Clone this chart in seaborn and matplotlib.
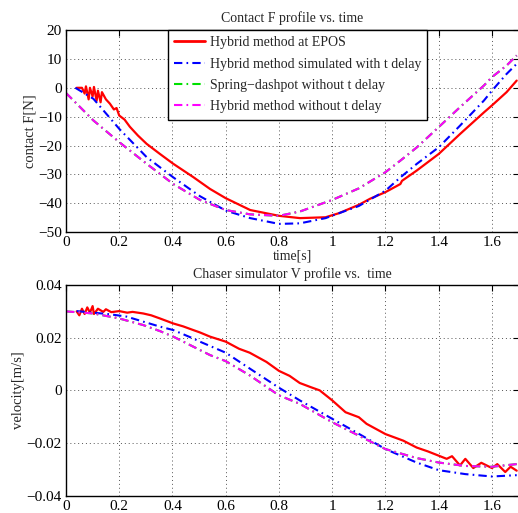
import numpy as np
import pandas as pd
import seaborn as sns
import matplotlib
matplotlib.use("Agg")
import matplotlib.pyplot as plt
from matplotlib.ticker import FuncFormatter, MultipleLocator

# --- contact force (top) ---
t_f_epos = [0.04, 0.06, 0.07, 0.075, 0.085, 0.09, 0.10, 0.105, 0.115, 0.12, 0.13, 0.135,
            0.15, 0.165, 0.18, 0.19, 0.20, 0.22, 0.24, 0.253, 0.27, 0.303, 0.353, 0.403,
            0.478, 0.541, 0.60, 0.692, 0.80, 0.879, 0.975, 1.025, 1.10, 1.142, 1.20,
            1.256, 1.262, 1.318, 1.40, 1.48, 1.57, 1.60, 1.655, 1.693]
f_epos = [0, 0, -2, 0.5, -4, 0, -3, 0.3, -4.5, -1, -5, -1.5,
          -4, -5.5, -7.5, -7, -9.6, -11, -13.5, -14.8, -16.5, -19.4, -22.9, -26.3,
          -30.9, -35, -38.2, -42.3, -44.3, -45.1, -44.8, -43.4, -40.5, -38.4, -36.1,
          -33.3, -32.2, -28.6, -22.9, -16, -8.5, -6.1, -1.5, 2.5]

t_f_delay = [0.035, 0.103, 0.2, 0.303, 0.403, 0.503, 0.6, 0.692, 0.8, 0.879, 0.975,
             1.1, 1.2, 1.256, 1.318, 1.4, 1.48, 1.57, 1.6, 1.655, 1.693]
f_delay = [0, -3.8, -14.2, -24, -31, -37.5, -42.5, -45.1, -47.1, -46.9, -45.1,
           -40.9, -35.6, -31, -26.3, -20.6, -13.1, -4.4, -1, 4.8, 8.3]

t_f_nodelay = [0.0, 0.103, 0.2, 0.303, 0.403, 0.503, 0.6, 0.692, 0.8, 0.879, 1.0,
               1.1, 1.2, 1.256, 1.318, 1.4, 1.48, 1.57, 1.6, 1.655, 1.693]
f_nodelay = [-1.8, -11.3, -18.8, -26.3, -33.3, -38.8, -42.3, -43.8, -44.3, -42.8, -38.8,
             -34.8, -29.2, -25.2, -20.6, -13.6, -6.7, 0.8, 3.7, 7.7, 11.2]

# --- chaser velocity (bottom) ---
t_v_epos = [0.04, 0.05, 0.06, 0.07, 0.08, 0.09, 0.10, 0.105, 0.12, 0.14, 0.15, 0.17,
            0.20, 0.23, 0.25, 0.29, 0.32, 0.353, 0.403, 0.44, 0.478, 0.503, 0.541,
            0.60, 0.65, 0.69, 0.753, 0.80, 0.84, 0.878, 0.92, 0.953, 1.0, 1.05, 1.10,
            1.129, 1.20, 1.267, 1.317, 1.36, 1.40, 1.43, 1.45, 1.48, 1.50, 1.53, 1.56,
            1.60, 1.62, 1.65, 1.67, 1.693]
v_epos = [0.0300, 0.0285, 0.0310, 0.0290, 0.0315, 0.0295, 0.0320, 0.0290, 0.0310, 0.0298, 0.0308, 0.0297,
          0.0301, 0.0295, 0.0298, 0.0292, 0.0285, 0.0273, 0.0254, 0.0243, 0.0229, 0.0220, 0.0204,
          0.0185, 0.0158, 0.0143, 0.0108, 0.0074, 0.0055, 0.0028, 0.0012, 0.0, -0.0038, -0.0083, -0.0102,
          -0.0127, -0.0166, -0.0191, -0.0217, -0.0232, -0.0248, -0.0260, -0.0250, -0.0285, -0.0260, -0.0295, -0.0275,
          -0.0295, -0.0280, -0.0310, -0.0290, -0.0305]

t_v_delay = [0.04, 0.165, 0.228, 0.29, 0.353, 0.403, 0.478, 0.503, 0.6, 0.69, 0.8,
             0.878, 1.0, 1.067, 1.1, 1.2, 1.317, 1.4, 1.5, 1.6, 1.693]
v_delay = [0.0301, 0.0289, 0.0280, 0.0261, 0.0242, 0.0229, 0.0197, 0.0185, 0.0143, 0.0083, 0.0010,
           -0.0038, -0.0108, -0.0146, -0.0165, -0.0223, -0.0274, -0.0303, -0.0318, -0.0327, -0.0322]

t_v_nodelay = [0.0, 0.103, 0.2, 0.29, 0.353, 0.403, 0.478, 0.541, 0.6, 0.69, 0.8,
               0.878, 1.0, 1.1, 1.2, 1.317, 1.4, 1.5, 1.6, 1.693]
v_nodelay = [0.0300, 0.0292, 0.0273, 0.0248, 0.0225, 0.0204, 0.0166, 0.0134, 0.0111, 0.0057, -0.0019,
             -0.0051, -0.0121, -0.0172, -0.0223, -0.0257, -0.0274, -0.0287, -0.0290, -0.0280]

labels = ["Hybrid method at EPOS",
          "Hybrid method simulated with t delay",
          "Spring\u2212dashpot without t delay",
          "Hybrid method without t delay"]

sns.set_theme(style="white")
plt.rcParams['font.family'] = ['Liberation Serif', 'DejaVu Serif']

fig = plt.figure(figsize=(5.18, 5.13), dpi=100)
ax1 = fig.add_axes([0.1274, 0.5472, 0.8737, 0.3943])
ax2 = fig.add_axes([0.1274, 0.0337, 0.8737, 0.4107])

dashdot = (0, (4, 2, 0.8, 2))
fmt = FuncFormatter(lambda v, p: ('%g' % round(v, 6)).replace('-', '\u2212'))

def draw(ax, tr, yr, tb, yb, tm, ym, legend):
    sns.lineplot(x=tr, y=yr, ax=ax, color='red', lw=1.6, sort=False, estimator=None,
                 label=labels[0] if legend else None)
    sns.lineplot(x=tb, y=yb, ax=ax, color='blue', lw=1.5, linestyle=dashdot, sort=False,
                 estimator=None, label=labels[1] if legend else None)
    sns.lineplot(x=tm, y=ym, ax=ax, color='#00e000', lw=1.5, linestyle=dashdot, sort=False,
                 estimator=None, label=labels[2] if legend else None)
    sns.lineplot(x=tm, y=ym, ax=ax, color='magenta', lw=1.5, linestyle=dashdot, sort=False,
                 estimator=None, label=labels[3] if legend else None)
    ax.set_xlim(0, 1.7)
    ax.xaxis.set_major_locator(MultipleLocator(0.2))
    ax.xaxis.set_major_formatter(fmt)
    ax.yaxis.set_major_formatter(fmt)
    ax.grid(True, linestyle=(0, (1, 3)), color='#555555', lw=0.7)
    ax.tick_params(direction='in', top=True, right=True, length=4, width=0.8,
                   labelsize=11, pad=3, colors='black')
    for s in ax.spines.values():
        s.set_color('black')
        s.set_linewidth(1.0)

draw(ax1, t_f_epos, f_epos, t_f_delay, f_delay, t_f_nodelay, f_nodelay, True)
ax1.set_ylim(-50, 20)
ax1.yaxis.set_major_locator(MultipleLocator(10))
ax1.set_title("Contact F profile vs. time", fontsize=10, pad=6)
ax1.set_xlabel("time[s]", fontsize=10, labelpad=0)
ax1.set_ylabel("contact F[N]", fontsize=10.5, labelpad=1)
leg = ax1.legend(loc='upper left', bbox_to_anchor=(0.2254, 1.0), fontsize=10, frameon=True,
                 fancybox=False, edgecolor='black', framealpha=1, borderaxespad=0,
                 handlelength=2.2, handletextpad=0.35, labelspacing=0.6, borderpad=0.45)
leg.get_frame().set_linewidth(1.0)
leg.get_lines()[0].set_linewidth(2)

draw(ax2, t_v_epos, v_epos, t_v_delay, v_delay, t_v_nodelay, v_nodelay, False)
ax2.set_ylim(-0.04, 0.04)
ax2.yaxis.set_major_locator(MultipleLocator(0.02))
ax2.set_title("Chaser simulator V profile vs.  time", fontsize=10, pad=5)
ax2.set_ylabel("velocity[m/s]", fontsize=10.5, labelpad=1)

fig.savefig("out.png", dpi=100)
